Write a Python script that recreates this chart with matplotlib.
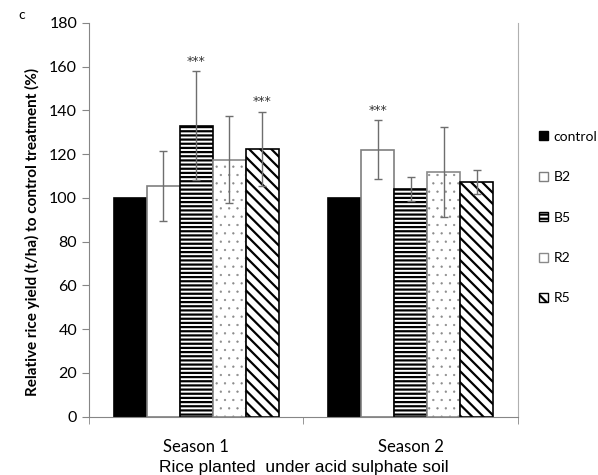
import matplotlib as mpl
import matplotlib.pyplot as plt
import matplotlib.patches as mpatches
import numpy as np

plt.rcParams['hatch.linewidth'] = 1.6

seasons = ["Season 1", "Season 2"]
treatments = ["control", "B2", "B5", "R2", "R5"]
control = [100, 100]
b2 = [105.5, 122]
b5 = [133, 104]
r2 = [117.5, 112]
r5 = [122.5, 107.5]
err_control = [0, 0]
err_b2 = [16, 13.5]
err_b5 = [25, 5.5]
err_r2 = [20, 20.5]
err_r5 = [17, 5.5]
stars_b2 = ["", "***"]
stars_b5 = ["***", ""]
stars_r5 = ["***", ""]

values = [control, b2, b5, r2, r5]
errors = [err_control, err_b2, err_b5, err_r2, err_r5]
stars = [["", ""], stars_b2, stars_b5, ["", ""], stars_r5]
# face, edge, hatch, hatch line width
styles = [("black", "black", None, 1.6),
          ("white", "#7f7f7f", None, 1.6),
          ("white", "black", "----", 1.6),
          ("white", "#8a8a8a", "..", 0.4),
          ("white", "black", "\\\\\\", 1.6)]

tick_font = "Lato"


def set_hlw(patch, hlw):
    if hasattr(patch, "set_hatch_linewidth"):
        patch.set_hatch_linewidth(hlw)


fig = plt.figure(figsize=(5.98, 4.75), dpi=100)
ax = fig.add_axes([0.1488, 0.1227, 0.7174, 0.8289])

x = np.arange(len(seasons))
w = 0.1535
for i, name in enumerate(treatments):
    pos = x + (i - 2) * w
    fc, ec, h, hlw = styles[i]
    with mpl.rc_context({"hatch.linewidth": hlw}):
        bars = ax.bar(pos, values[i], w, color=fc, edgecolor=ec, hatch=h,
                      linewidth=1.2, label=name, zorder=2)
    for b in bars:
        set_hlw(b, hlw)
    if any(errors[i]):
        ax.errorbar(pos, values[i], yerr=errors[i], fmt="none", ecolor="#6e6e6e",
                    elinewidth=1, capsize=3, capthick=1, zorder=3)
    for p, v, e, s in zip(pos, values[i], errors[i], stars[i]):
        if s:
            ax.text(p, v + e + 1.5, s, ha="center", va="bottom", fontsize=9,
                    color="#333333")

ax.set_xlim(-0.5, 1.5)
ax.set_ylim(0, 180)
ax.set_yticks(np.arange(0, 181, 20))
ax.set_xticks(x)
ax.set_xticklabels(seasons, fontsize=12, family=tick_font)
ax.set_xticks([-0.5, 0.5, 1.5], minor=True)
ax.tick_params(axis="x", which="major", length=0, pad=16)
ax.tick_params(axis="x", which="minor", length=5, color="#868686", direction="out")
ax.tick_params(axis="y", length=5, color="#868686", direction="out", labelsize=11.5)
for lab in ax.get_yticklabels():
    lab.set_family(tick_font)

ax.spines["top"].set_visible(False)
ax.spines["left"].set_color("#868686")
ax.spines["bottom"].set_color("#868686")
ax.spines["right"].set_color("#b0b0b0")

ax.set_ylabel("Relative rice yield (t/ha) to control treatment (%)", fontsize=11,
              fontweight="bold", family=tick_font)
ax.yaxis.set_label_coords(-0.115, 0.47)
ax.set_xlabel("Rice planted  under acid sulphate soil", fontsize=12.5,
              family="Liberation Sans", labelpad=4)

fig.text(0.037, 0.968, "c", fontsize=10, family=tick_font, ha="center", va="center")

handles = []
for i, name in enumerate(treatments):
    fc, ec, h, hlw = styles[i]
    hatch = "." if h == ".." else h
    with mpl.rc_context({"hatch.linewidth": max(hlw, 1.0)}):
        p = mpatches.Patch(facecolor=fc, edgecolor=ec, hatch=hatch, label=name)
    set_hlw(p, max(hlw, 1.0))
    handles.append(p)
fig.legend(handles=handles, loc="center left", bbox_to_anchor=(0.902, 0.542),
           frameon=False, prop={"family": tick_font, "size": 10},
           borderpad=0, borderaxespad=0,
           handlelength=0.6, handleheight=0.6, handletextpad=0.4, labelspacing=2.05)

fig.savefig("out.png", dpi=100)
